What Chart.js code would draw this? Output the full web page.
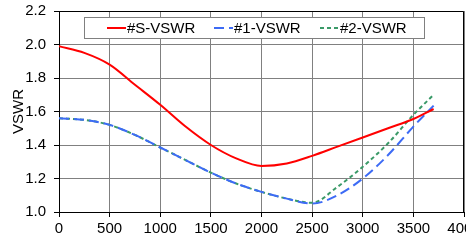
<!DOCTYPE html>
<html>
<head>
<meta charset="utf-8">
<script src="https://cdn.jsdelivr.net/npm/chart.js@4"></script>
<style>
  html, body { margin: 0; padding: 0; background: #fff; overflow: hidden; }
  #wrap { width: 466px; height: 240px; }
</style>
</head>
<body>
<div id="wrap"><canvas id="chart" width="466" height="240"></canvas></div>
<script>
// frequency points (x axis)
const xValues = [0, 250, 500, 750, 1000, 1250, 1500, 1750, 2000, 2250, 2500, 2750, 3000, 3250, 3500, 3700];
const sVswr = [1.99, 1.95, 1.88, 1.76, 1.64, 1.51, 1.40, 1.32, 1.275, 1.29, 1.335, 1.39, 1.445, 1.50, 1.555, 1.615];
const oneVswr = [1.56, 1.55, 1.52, 1.46, 1.385, 1.31, 1.235, 1.17, 1.12, 1.08, 1.05, 1.10, 1.20, 1.34, 1.51, 1.635];
const twoVswr = [1.56, 1.55, 1.52, 1.46, 1.385, 1.31, 1.235, 1.17, 1.12, 1.08, 1.055, 1.15, 1.27, 1.41, 1.58, 1.70];
const seriesLabels = ['#S-VSWR', '#1-VSWR', '#2-VSWR'];
const xTicks = [0, 500, 1000, 1500, 2000, 2500, 3000, 3500, 4000];
const yTicks = [1.0, 1.2, 1.4, 1.6, 1.8, 2.0, 2.2];

function pts(ys) {
    return xValues.map(function (x, i) { return {x: x, y: ys[i]}; });
}

const FONT = {family: '"Liberation Sans", Arial, sans-serif', size: 15};

// legend drawn inside the plot, with a box round it
const boxLegend = {
    id: 'boxLegend',
    afterDatasetsDraw(chart) {
        const ctx = chart.ctx;
        const left = 84.5, top = 17.5, w = 340, h = 21;
        ctx.save();
        ctx.fillStyle = '#fff';
        ctx.fillRect(left, top, w, h);
        ctx.strokeStyle = '#808080';
        ctx.lineWidth = 1;
        ctx.strokeRect(left, top, w, h);
        const starts = [107, 214, 320];
        ctx.font = '15px ' + FONT.family;
        ctx.textBaseline = 'middle';
        chart.data.datasets.forEach(function (ds, i) {
            const cy = top + h / 2;
            ctx.strokeStyle = ds.borderColor;
            ctx.lineWidth = ds.borderWidth;
            ctx.setLineDash(ds.borderDash || []);
            ctx.beginPath();
            ctx.moveTo(starts[i], cy);
            ctx.lineTo(starts[i] + 19, cy);
            ctx.stroke();
            ctx.setLineDash([]);
            ctx.fillStyle = '#000';
            ctx.fillText(ds.label, starts[i] + 20, cy + 1);
        });
        ctx.restore();
    }
};

const data = {
    datasets: [
        {label: seriesLabels[0], data: pts(sVswr), borderColor: '#ff0000', borderWidth: 2},
        {label: seriesLabels[1], data: pts(oneVswr), borderColor: '#3d6bf5', borderWidth: 2, borderDash: [10, 5]},
        {label: seriesLabels[2], data: pts(twoVswr), borderColor: '#3a9a68', borderWidth: 2, borderDash: [4, 3]}
    ]
};

const config = {
    type: 'line',
    data,
    options: {
        responsive: false,
        animation: false,
        devicePixelRatio: 1,
        layout: {padding: {top: 11, right: 2, left: 0, bottom: 0}},
        elements: {
            point: {radius: 0},
            line: {cubicInterpolationMode: 'monotone', fill: false}
        },
        plugins: {
            legend: {display: false},
            tooltip: {enabled: false}
        },
        scales: {
            x: {
                type: 'linear',
                min: 0,
                max: 4000,
                afterBuildTicks: function (scale) {
                    scale.ticks = xTicks.map(function (v) { return {value: v}; });
                },
                afterFit: function (scale) {
                    scale.height = 28;
                    scale.paddingRight = 0;
                    scale.paddingLeft = 0;
                },
                grid: {color: '#808080', tickLength: 5, tickColor: '#000'},
                border: {color: '#000'},
                ticks: {
                    color: '#000', font: FONT, padding: 3, maxRotation: 0, autoSkip: false,
                    callback: function (value) { return String(value); }
                }
            },
            y: {
                min: 1.0,
                max: 2.2,
                afterBuildTicks: function (scale) {
                    scale.ticks = yTicks.map(function (v) { return {value: v}; });
                },
                afterFit: function (scale) {
                    scale.width = 59;
                    scale.paddingTop = 0;
                    scale.paddingBottom = 0;
                },
                grid: {color: '#808080', tickLength: 5, tickColor: '#000'},
                border: {color: '#000'},
                ticks: {
                    color: '#000', font: FONT, padding: 8,
                    callback: function (value) { return value.toFixed(1); }
                },
                title: {display: true, text: 'VSWR', color: '#000', font: FONT, padding: {top: 10, bottom: 0}}
            }
        }
    },
    plugins: [boxLegend, {
        id: 'frame',
        afterDraw(chart) {
            const a = chart.chartArea;
            const ctx = chart.ctx;
            ctx.save();
            ctx.strokeStyle = '#000';
            ctx.lineWidth = 1;
            ctx.beginPath();
            ctx.moveTo(a.left + 0.5, a.top + 0.5);
            ctx.lineTo(a.right - 0.5, a.top + 0.5);
            ctx.lineTo(a.right - 0.5, a.bottom);
            ctx.stroke();
            ctx.restore();
        }
    }]
};

var myChart = new Chart(document.getElementById('chart'), config);
</script>
</body>
</html>
